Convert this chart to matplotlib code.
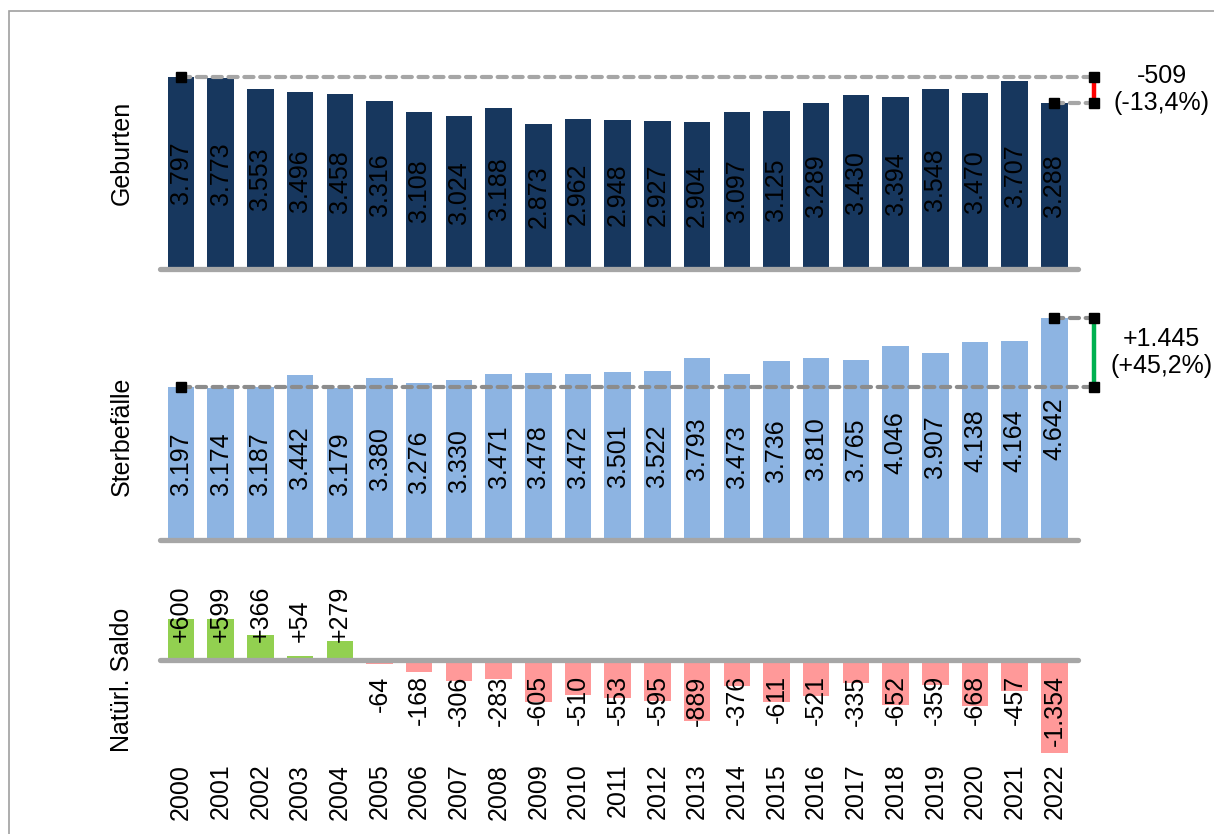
import matplotlib.pyplot as plt
from matplotlib.patches import Rectangle

jahre = [str(j) for j in range(2000, 2023)]
geburten = [3797, 3773, 3553, 3496, 3458, 3316, 3108, 3024, 3188, 2873, 2962, 2948,
            2927, 2904, 3097, 3125, 3289, 3430, 3394, 3548, 3470, 3707, 3288]
sterbefaelle = [3197, 3174, 3187, 3442, 3179, 3380, 3276, 3330, 3471, 3478, 3472, 3501,
                3522, 3793, 3473, 3736, 3810, 3765, 4046, 3907, 4138, 4164, 4642]
saldo = [g - s for g, s in zip(geburten, sterbefaelle)]

plt.rcParams['font.family'] = ['Liberation Sans', 'DejaVu Sans']

W, H = 1214, 834
FS = 18
navy = '#17375E'
hellblau = '#8DB4E2'
gruen = '#92D050'
rosa = '#FF9999'


def zahl(v, vorzeichen=False):
    s = f'{abs(v):,}'.replace(',', '.')
    if v < 0:
        return '-' + s
    return ('+' + s) if vorzeichen else s


def achse(fig, null_px, ymin, ymax, skala):
    # x: px = 181 + 39.7 * x ; y: skala px pro Einheit, null_px = Pixelzeile der Nulllinie
    links, rechts = 161.15, 1213.2
    hoehe = (ymax - ymin) * skala
    unten = null_px - ymin * skala
    ax = fig.add_axes([links / W, 1 - unten / H, (rechts - links) / W, hoehe / H])
    ax.set_xlim(-0.5, 26)
    ax.set_ylim(ymin, ymax)
    for sp in ax.spines.values():
        sp.set_visible(False)
    ax.set_yticks([])
    ax.set_xticks([])
    ax.patch.set_alpha(0)
    return ax


def grundlinie(ax):
    ax.plot([-0.53, 22.6], [0, 0], color='#A6A6A6', lw=3.8, solid_capstyle='round',
            clip_on=False, zorder=3)


def differenz(ax, werte, farbe_linie, farbe_strich):
    a, b = werte[0], werte[-1]
    n = len(werte) - 1
    xr = 23.0
    ls = (0, (2.2, 1.6))
    ax.plot([0, xr], [a, a], color=farbe_linie, lw=3, ls=ls, dash_capstyle='round', zorder=4)
    ax.plot([n, xr], [b, b], color=farbe_linie, lw=3, ls=ls, dash_capstyle='round', zorder=4)
    ax.plot([xr, xr], [a, b], color=farbe_strich, lw=3.2, zorder=5, clip_on=False)
    ax.plot([0, n, xr, xr], [a, b, a, b], 's', color='black', ms=6.5, zorder=6, clip_on=False)
    d = b - a
    p = f'{d / a * 100:+.1f}'.replace('.', ',')
    ax.text(24.7, (a + b) / 2, f'{zahl(d, True)}\n({p}%)', ha='center', va='center',
            fontsize=FS, linespacing=1.15, clip_on=False)


fig = plt.figure(figsize=(W / 100, H / 100), dpi=100)
fig.patches.append(Rectangle((9 / W, -0.1), 1.2, 1 - 11 / H + 0.1, transform=fig.transFigure,
                             fill=False, edgecolor='#A0A0A0', lw=1.2))

x = list(range(len(jahre)))

# Geburten
ax1 = achse(fig, 269, 0, 4500, 0.0506)
ax1.bar(x, geburten, width=0.67, color=navy, zorder=2)
for i, v in enumerate(geburten):
    ax1.text(i, v / 2, zahl(v), rotation=90, ha='center', va='center', fontsize=FS, color='black')
grundlinie(ax1)
differenz(ax1, geburten, '#A6A6A6', '#FF0000')

# Sterbefaelle
ax2 = achse(fig, 540, 0, 5000, 0.0479)
ax2.bar(x, sterbefaelle, width=0.67, color=hellblau, zorder=2)
for i, v in enumerate(sterbefaelle):
    ax2.text(i, v / 2, zahl(v), rotation=90, ha='center', va='center', fontsize=FS, color='black')
grundlinie(ax2)
differenz(ax2, sterbefaelle, '#8C8C8C', '#00B050')

# Saldo
ax3 = achse(fig, 660, -1500, 1000, 0.0687)
ax3.bar(x, saldo, width=0.67, color=[gruen if v >= 0 else rosa for v in saldo], zorder=2)
for i, v in enumerate(saldo):
    if v >= 0:
        ax3.annotate(zahl(v, True), (i, 0), xytext=(0, 13), textcoords='offset points',
                     rotation=90, ha='center', va='bottom', fontsize=FS, zorder=5)
    else:
        ax3.annotate(zahl(v, True), (i, 0), xytext=(0, -11), textcoords='offset points',
                     rotation=90, ha='center', va='top', fontsize=FS, zorder=5)
grundlinie(ax3)
ax3.set_xticks(x)
ax3.set_xticklabels(jahre, rotation=90, fontsize=FS)
ax3.tick_params(axis='x', length=0, pad=0.5)

fig.text(122 / W, 1 - 153 / H, 'Geburten', rotation=90, ha='center', va='center', fontsize=FS)
fig.text(122 / W, 1 - 436 / H, 'Sterbefälle', rotation=90, ha='center', va='center', fontsize=FS)
fig.text(122 / W, 1 - 680 / H, 'Natürl. Saldo', rotation=90, ha='center', va='center', fontsize=FS)

fig.savefig('out.png', dpi=100)
